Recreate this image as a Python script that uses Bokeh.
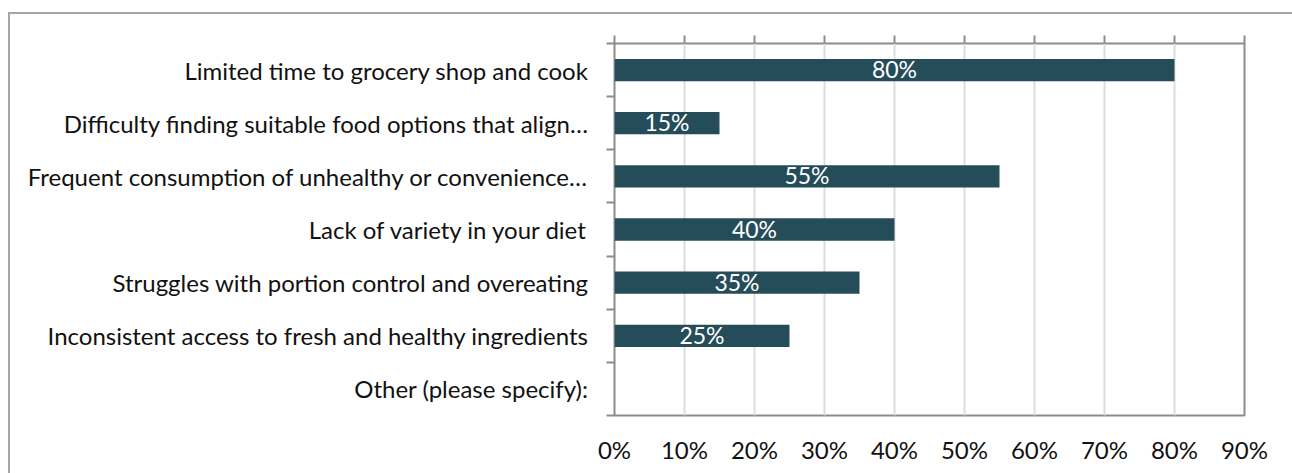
from bokeh.plotting import figure
from bokeh.models import Range1d, FixedTicker, LinearAxis, PrintfTickFormatter, ColumnDataSource
from bokeh.core.properties import value
from bokeh.embed import file_html
from bokeh.resources import INLINE

categories = [
    "Limited time to grocery shop and cook",
    "Difficulty finding suitable food options that align\u2026",
    "Frequent consumption of unhealthy or convenience\u2026",
    "Lack of variety in your diet",
    "Struggles with portion control and overeating",
    "Inconsistent access to fresh and healthy ingredients",
    "Other (please specify):",
]
percent_values = [80, 15, 55, 40, 35, 25, 0]
x_ticks = [0, 10, 20, 30, 40, 50, 60, 70, 80, 90]

FONT = "Lato"
BAR = "#254C59"
FRAME = "#8c8c8c"

n = len(categories)
centers = [n - i - 0.5 for i in range(n)]
boundaries = list(range(n + 1))

p = figure(width=1284, height=461, output_backend="svg", toolbar_location=None,
           x_range=Range1d(0, 90), y_range=Range1d(0, n),
           x_axis_location=None, y_axis_location=None,
           min_border_left=604, min_border_right=50, min_border_top=29, min_border_bottom=60)
p.styles = {"margin-left": "8px", "margin-top": "12px",
            "border-left": "2px solid #a6a6a6", "border-top": "2px solid #a6a6a6"}

p.outline_line_color = FRAME
p.outline_line_width = 2
p.background_fill_color = "white"
p.border_fill_color = "white"

src = ColumnDataSource(dict(y=centers, v=percent_values))
p.hbar(y="y", right="v", left=0, height=0.42, source=src, color=BAR, line_color=None)

lab = [(c, v) for c, v in zip(centers, percent_values) if v > 0]
lsrc = ColumnDataSource(dict(y=[a for a, b in lab], x=[b / 2 for a, b in lab],
                             t=["%d%%" % b for a, b in lab]))
p.text(x="x", y="y", text="t", source=lsrc, text_color="white", text_align="center",
       text_baseline="middle", text_font=value(FONT), text_font_size="23px",
       y_offset=-1)

ticker = FixedTicker(ticks=x_ticks)
p.xgrid.ticker = ticker
p.xgrid.grid_line_color = "#dddddd"
p.xgrid.grid_line_width = 2
p.ygrid.grid_line_color = None

top = LinearAxis(ticker=ticker, major_label_text_alpha=0, major_label_text_font_size="1px",
                 axis_line_color=None, major_tick_in=0, major_tick_out=8,
                 major_tick_line_color=FRAME, major_tick_line_width=2,
                 minor_tick_line_color=None)
p.add_layout(top, "above")

bottom = LinearAxis(ticker=ticker, formatter=PrintfTickFormatter(format="%d%%"),
                    axis_line_color=None, major_tick_line_color=None, minor_tick_line_color=None,
                    major_label_standoff=13, major_label_text_font=FONT,
                    major_label_text_font_size="24px", major_label_text_color="#111111")
p.add_layout(bottom, "below")

left = LinearAxis(ticker=FixedTicker(ticks=centers, minor_ticks=boundaries),
                  major_label_overrides={c: t for c, t in zip(centers, categories)},
                  axis_line_color=None, major_tick_line_color=None,
                  minor_tick_in=0, minor_tick_out=8, minor_tick_line_color=FRAME,
                  minor_tick_line_width=2, major_label_standoff=18,
                  major_label_text_font=FONT, major_label_text_font_size="24px",
                  major_label_text_color="#111111")
p.add_layout(left, "left")

open("out.html", "w").write(file_html(p, INLINE))
